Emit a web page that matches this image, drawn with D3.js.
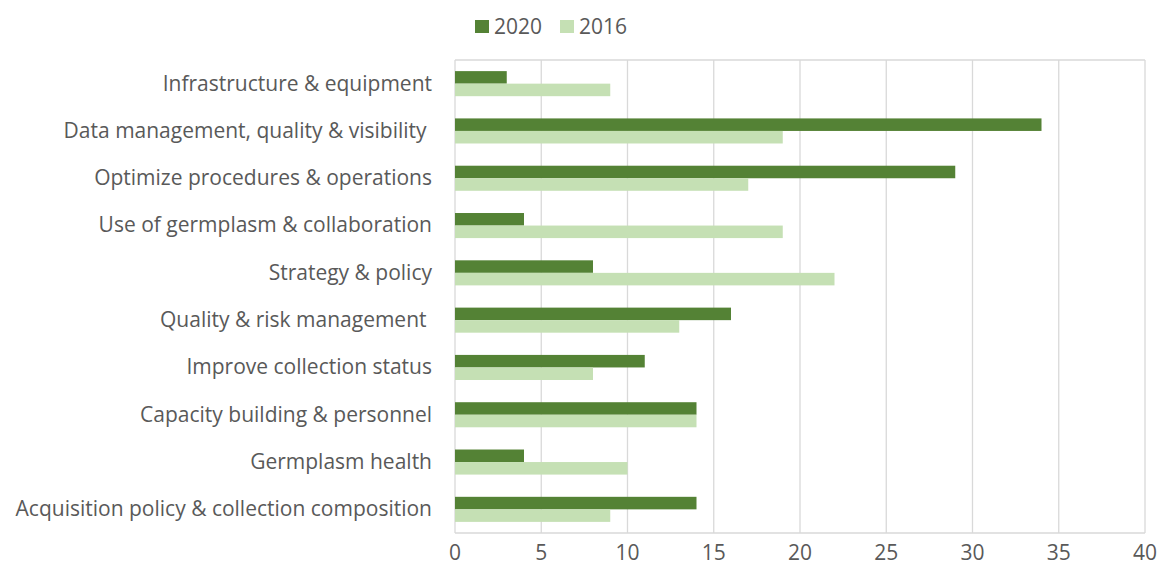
<!doctype html>
<html lang="en">
<head>
    <meta charset="UTF-8">
    <script src="https://cdnjs.cloudflare.com/ajax/libs/d3/7.8.5/d3.min.js"></script>
    <title>Priorities 2016 vs 2020</title>
    <style>
        body { margin: 0; background: #fff; }
        text { font-family: "Open Sans", "Liberation Sans", sans-serif; fill: #595959; }
    </style>
</head>
<body>
<div id="Area"></div>
<script>
    // chart values
    const categories = [
        "Infrastructure & equipment",
        "Data management, quality & visibility ",
        "Optimize procedures & operations",
        "Use of germplasm & collaboration",
        "Strategy & policy",
        "Quality & risk management ",
        "Improve collection status",
        "Capacity building & personnel",
        "Germplasm health",
        "Acquisition policy & collection composition"
    ];
    const values2020 = [3, 34, 29, 4, 8, 16, 11, 14, 4, 14];
    const values2016 = [9, 19, 17, 19, 22, 13, 8, 14, 10, 9];
    const seriesNames = ["2020", "2016"];
    const xTicks = [0, 5, 10, 15, 20, 25, 30, 35, 40];

    const colors = {"2020": "#548235", "2016": "#c5e0b4"};

    const width = 1161, height = 571;
    const margin = {top: 60, right: 16, bottom: 38, left: 455};
    const fontSize = "21px";

    const svg = d3.select("#Area")
        .append("svg")
        .attr("width", width)
        .attr("height", height);

    const x = d3.scaleLinear()
        .domain([0, 40])
        .range([margin.left, width - margin.right]);

    const y = d3.scaleBand()
        .domain(categories)
        .range([margin.top, height - margin.bottom])
        .paddingInner(0.47)
        .paddingOuter(0.235);

    const sub = d3.scaleBand()
        .domain(seriesNames)
        .range([0, y.bandwidth()]);

    // gridlines
    svg.append("g")
        .selectAll("line")
        .data(xTicks)
        .join("line")
        .attr("x1", d => x(d)).attr("x2", d => x(d))
        .attr("y1", margin.top).attr("y2", height - margin.bottom)
        .attr("stroke", "#d9d9d9")
        .attr("stroke-width", 1.3);

    // top and bottom border of plot area
    svg.append("g")
        .selectAll("line")
        .data([margin.top, height - margin.bottom])
        .join("line")
        .attr("x1", x(0)).attr("x2", x(40))
        .attr("y1", d => d).attr("y2", d => d)
        .attr("stroke", "#d9d9d9")
        .attr("stroke-width", 1.3);

    const rows = categories.map((c, i) => ({cat: c, "2020": values2020[i], "2016": values2016[i]}));

    svg.append("g")
        .selectAll("g")
        .data(rows)
        .join("g")
        .attr("transform", d => "translate(0," + y(d.cat) + ")")
        .selectAll("rect")
        .data(d => seriesNames.map(s => ({s: s, v: d[s]})))
        .join("rect")
        .attr("x", x(0))
        .attr("y", d => sub(d.s))
        .attr("width", d => x(d.v) - x(0))
        .attr("height", sub.bandwidth())
        .attr("fill", d => colors[d.s]);

    // category labels
    svg.append("g")
        .selectAll("text")
        .data(categories)
        .join("text")
        .attr("x", 432)
        .attr("y", d => y(d) + y.bandwidth() / 2 - 0.5)
        .attr("dy", "0.35em")
        .attr("text-anchor", "end")
        .style("font-size", fontSize)
        .style("white-space", "pre")
        .text(d => d);

    // x tick labels
    svg.append("g")
        .selectAll("text")
        .data(xTicks)
        .join("text")
        .attr("x", d => x(d))
        .attr("y", 553)
        .attr("dy", "0.35em")
        .attr("text-anchor", "middle")
        .style("font-size", fontSize)
        .text(d => d);

    // legend
    const legend = svg.append("g")
        .selectAll("g")
        .data(seriesNames)
        .join("g")
        .attr("transform", (d, i) => "translate(" + (475 + i * 85) + ",20)");

    legend.append("rect")
        .attr("width", 14).attr("height", 13)
        .attr("fill", d => colors[d]);

    legend.append("text")
        .attr("x", 19).attr("y", 6.5)
        .attr("dy", "0.35em")
        .style("font-size", fontSize)
        .text(d => d);
</script>
</body>
</html>
